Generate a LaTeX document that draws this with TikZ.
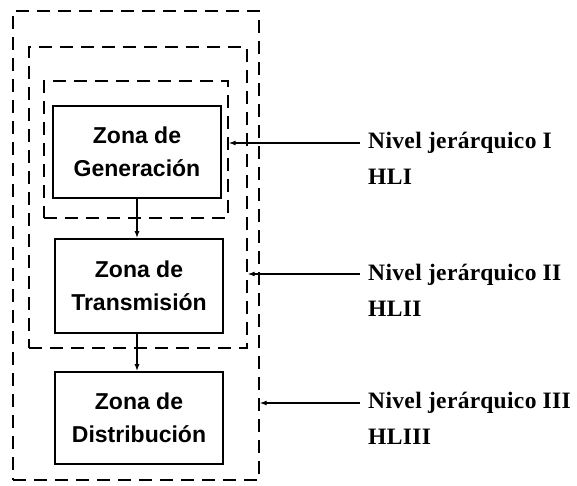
\documentclass[tikz,border=0pt]{standalone}
\usepackage{fontspec}
\setmainfont{Liberation Serif}
\newfontfamily\boxfont{Liberation Sans}
\newfontfamily\labfont[LetterSpace=1.5]{Liberation Serif}
\usetikzlibrary{arrows.meta}
\begin{document}
\begin{tikzpicture}[x=1pt,y=-1pt,
  zone/.style={draw,line width=1.6pt,minimum width=168pt,inner sep=0pt,
    align=center,font=\boxfont\bfseries\fontsize{23}{33}\selectfont},
  level/.style={draw,dashed,dash pattern=on 13pt off 8pt,line width=1.3pt,inner sep=0pt},
  lab/.style={anchor=west,align=left,inner sep=0pt,
    font=\labfont\bfseries\fontsize{23.5}{36}\selectfont},
  conn/.style={line width=1.4pt,-{Latex[length=7pt,width=5pt]}}]
\useasboundingbox (0,0) rectangle (577,485);
% hierarchical level frames
\node[level,minimum width=246pt,minimum height=469pt] (hl3) at (136,245.5) {};
\node[level,minimum width=218pt,minimum height=301pt] (hl2) at (138,197.5) {};
\node[level,minimum width=184pt,minimum height=137pt] (hl1) at (136,149.5) {};
% zones
\node[zone,minimum height=92pt] (gen) at (137,152) {Zona de\\Generación};
\node[zone,minimum height=94pt] (tra) at (139,286) {Zona de\\Transmisión};
\node[zone,minimum height=92pt] (dis) at (139,418) {Zona de\\Distribución};
\draw[conn] (gen.south) -- (gen.south |- tra.north);
\draw[conn] (gen.south |- tra.south) -- (gen.south |- dis.north);
% labels
\node[lab] (l1) at (368,158) {Nivel jerárquico I\\HLI};
\node[lab] (l2) at (368,290) {Nivel jerárquico II\\HLII};
\node[lab] (l3) at (368,418) {Nivel jerárquico III\\HLIII};
\coordinate (s1) at (360,143);
\coordinate (s2) at (360,274);
\coordinate (s3) at (360,403);
\draw[conn] (s1) -- (s1 -| hl1.east);
\draw[conn] (s2) -- (s2 -| hl2.east);
\draw[conn] (s3) -- (s3 -| hl3.east);
\end{tikzpicture}
\end{document}
